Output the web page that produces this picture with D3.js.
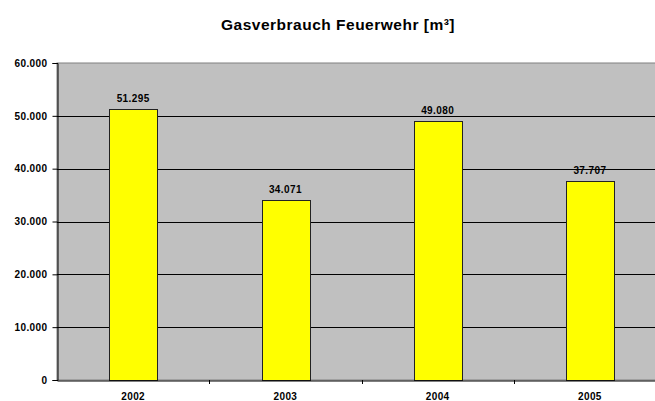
<!DOCTYPE html>
<html>
<head>
<meta charset="utf-8">
<script src="https://cdn.jsdelivr.net/npm/d3@7"></script>
<style>
  html, body { margin: 0; padding: 0; background: #fff; }
  svg text { font-family: Arial, "Liberation Sans", Helvetica, sans-serif; font-weight: bold; }
</style>
</head>
<body>
<svg id="chart" width="655" height="401"></svg>
<script>
const years = ["2002", "2003", "2004", "2005"];
const gasUsage = [51295, 34071, 49080, 37707];
const yTicks = [0, 10000, 20000, 30000, 40000, 50000, 60000];
const chartTitle = "Gasverbrauch Feuerwehr [m³]";

const de = d3.formatLocale({decimal: ",", thousands: ".", grouping: [3], currency: ["", " €"]});
const fmt = de.format(",");

const svg = d3.select("#chart");
const margin = {left: 57, top: 63, bottom: 380, right: 666};

const x = d3.scaleBand()
    .domain(years)
    .range([margin.left, margin.right])
    .paddingInner(0.688)
    .paddingOuter(0.344);

const y = d3.scaleLinear()
    .domain([0, 60000])
    .range([margin.bottom, margin.top]);

// plot background
svg.append("rect")
    .attr("x", margin.left)
    .attr("y", margin.top)
    .attr("width", margin.right - margin.left)
    .attr("height", margin.bottom - margin.top)
    .attr("fill", "#c0c0c0")
    .attr("stroke", "#808080")
    .attr("stroke-width", 1);

// gridlines
svg.append("g")
    .selectAll("line")
    .data(yTicks.filter(d => d > 0 && d < 60000))
    .enter().append("line")
    .attr("x1", margin.left)
    .attr("x2", margin.right)
    .attr("y1", d => Math.round(y(d)) + 0.5)
    .attr("y2", d => Math.round(y(d)) + 0.5)
    .attr("stroke", "#000")
    .attr("stroke-width", 1);

// bars
svg.append("g")
    .selectAll("rect")
    .data(gasUsage)
    .enter().append("rect")
    .attr("x", (d, i) => Math.round(x(years[i])) + 0.5)
    .attr("y", d => Math.round(y(d)) + 0.5)
    .attr("width", Math.round(x.bandwidth()))
    .attr("height", d => Math.round(y(0)) - Math.round(y(d)))
    .attr("fill", "#ffff00")
    .attr("stroke", "#222")
    .attr("stroke-width", 1);

// value labels
svg.append("g")
    .selectAll("text")
    .data(gasUsage)
    .enter().append("text")
    .attr("x", (d, i) => x(years[i]) + x.bandwidth() / 2)
    .attr("y", d => y(d) - 7)
    .attr("text-anchor", "middle")
    .style("font-size", "10px")
    .style("letter-spacing", "0.4px")
    .text(d => fmt(d));

// y axis
const yAxis = d3.axisLeft(y)
    .tickValues(yTicks)
    .tickSize(5)
    .tickPadding(5)
    .tickFormat(d => fmt(d));

const gy = svg.append("g")
    .attr("transform", `translate(${margin.left + 0.5},0)`)
    .call(yAxis);
gy.select(".domain").attr("stroke", "#000");
gy.selectAll("text").style("font-size", "10px").style("letter-spacing", "0.4px").attr("fill", "#000");

// x axis
const xAxis = d3.axisBottom(x).tickSize(0).tickPadding(12);
const gx = svg.append("g")
    .attr("transform", `translate(0,${margin.bottom + 0.5})`)
    .call(xAxis);
gx.select(".domain").attr("stroke", "#000");
gx.selectAll("text").style("font-size", "10px").style("letter-spacing", "0.4px").attr("fill", "#000");

// category boundary ticks
const step = x.step();
svg.append("g")
    .selectAll("line")
    .data(years.slice(1))
    .enter().append("line")
    .attr("x1", d => Math.round(x(d) - x.paddingInner() * step / 2) + 0.5)
    .attr("x2", d => Math.round(x(d) - x.paddingInner() * step / 2) + 0.5)
    .attr("y1", margin.bottom)
    .attr("y2", margin.bottom + 4)
    .attr("stroke", "#000");

// title
svg.append("text")
    .attr("x", 338)
    .attr("y", 29.5)
    .attr("text-anchor", "middle")
    .style("font-size", "15.5px")
    .style("letter-spacing", "0.5px")
    .text(chartTitle);
</script>
</body>
</html>
